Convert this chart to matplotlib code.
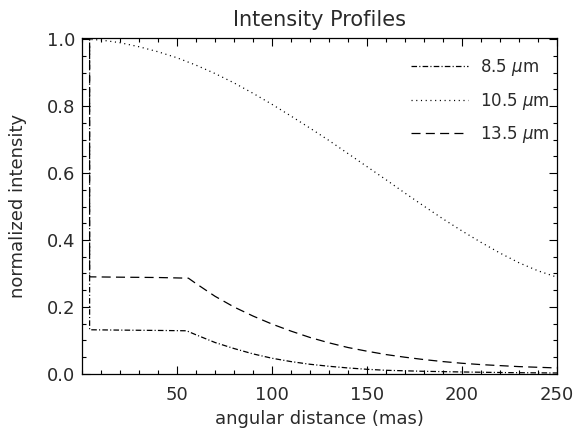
import matplotlib
matplotlib.use("Agg")
import matplotlib.pyplot as plt

# values (angular distance in mas, normalized intensity)
x_85 = [0, 4, 4, 20, 40, 55, 60, 70, 80, 90, 100, 110, 120, 130, 140, 150, 160, 180, 200, 225, 250]
y_85 = [1.0, 1.0, 0.132, 0.131, 0.130, 0.129, 0.117, 0.094, 0.076, 0.060, 0.047, 0.037, 0.029,
        0.023, 0.018, 0.014, 0.011, 0.008, 0.006, 0.004, 0.003]

x_105 = [0, 10, 20, 30, 40, 50, 60, 70, 80, 90, 100, 110, 120, 130, 140, 150, 160, 170, 180,
         190, 200, 210, 220, 230, 240, 250]
y_105 = [1.0, 0.997, 0.989, 0.977, 0.962, 0.944, 0.922, 0.897, 0.869, 0.838, 0.805, 0.770,
         0.734, 0.697, 0.658, 0.619, 0.580, 0.540, 0.501, 0.463, 0.427, 0.393, 0.361, 0.332,
         0.308, 0.289]

x_135 = [0, 4, 4, 20, 40, 56, 60, 70, 80, 90, 100, 110, 120, 130, 140, 150, 160, 170, 180,
         190, 200, 210, 220, 230, 240, 250]
y_135 = [1.0, 1.0, 0.290, 0.289, 0.288, 0.286, 0.270, 0.232, 0.200, 0.173, 0.149, 0.128, 0.109,
         0.093, 0.079, 0.068, 0.058, 0.050, 0.043, 0.037, 0.032, 0.028, 0.025, 0.022, 0.020, 0.018]

labels = ['8.5 $\\mu$m', '10.5 $\\mu$m', '13.5 $\\mu$m']

plt.rcParams['lines.scale_dashes'] = False
plt.rcParams['font.family'] = 'DejaVu Sans'
txt = '#2a2a2a'

fig = plt.figure(figsize=(5.87, 4.32), dpi=100)
ax = fig.add_axes([0.1397, 0.1343, 0.8092, 0.7777])

lw = 0.9
ax.plot(x_85, y_85, color='black', lw=lw, linestyle=(0, (4, 1.6, 0.8, 1.6)), label=labels[0])
ax.plot(x_105, y_105, color='black', lw=lw, linestyle=(0, (0.8, 2.6)), label=labels[1])
ax.plot(x_135, y_135, color='black', lw=lw, linestyle=(0, (6.5, 3.8)), label=labels[2])

ax.set_xlim(0, 250)
ax.set_ylim(0, 1.003)
ax.set_xticks([50, 100, 150, 200, 250])
ax.set_xticks(range(0, 251, 10), minor=True)
ax.set_yticks([0.0, 0.2, 0.4, 0.6, 0.8, 1.0])
ax.set_yticks([i * 0.05 for i in range(21)], minor=True)
ax.set_yticklabels(['0.0', '0.2', '0.4', '0.6', '0.8', '1.0'])

ax.tick_params(which='both', direction='in', top=True, right=True, colors='black',
               labelcolor=txt, labelsize=13, width=0.8)
ax.tick_params(which='major', length=5.5)
ax.tick_params(which='minor', length=3)
ax.tick_params(axis='x', pad=9)
ax.tick_params(axis='y', pad=5)
for s in ax.spines.values():
    s.set_linewidth(0.9)

ax.set_xlabel('angular distance (mas)', fontsize=13, color=txt, labelpad=4)
ax.set_ylabel('normalized intensity', fontsize=13, color=txt, labelpad=14)
ax.set_title('Intensity Profiles', fontsize=15, color=txt, pad=9)

ax.legend(loc='upper right', bbox_to_anchor=(0.985, 0.943), frameon=False,
          fontsize=12, handlelength=3.4, handletextpad=0.75, labelspacing=0.75,
          borderpad=0, borderaxespad=0, labelcolor=txt)

fig.savefig('out.png', dpi=100)
